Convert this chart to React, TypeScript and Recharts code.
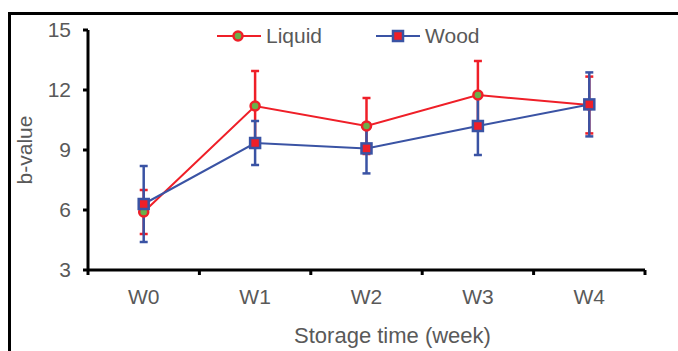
import { LineChart, Line, XAxis, YAxis, ErrorBar, Legend, Label } from 'recharts'

const categories = ['W0', 'W1', 'W2', 'W3', 'W4']
const liquid = [5.9, 11.2, 10.2, 11.75, 11.25]
const liquidErr = [1.1, 1.75, 1.4, 1.7, 1.42]
const wood = [6.3, 9.35, 9.08, 10.2, 11.28]
const woodErr = [1.9, 1.1, 1.25, 1.45, 1.6]
const yTicks = [3, 6, 9, 12, 15]

const data = categories.map((c, i) => ({
  x: i,
  name: c,
  liquid: liquid[i],
  liquidErr: liquidErr[i],
  wood: wood[i],
  woodErr: woodErr[i],
}))

// boundary ticks at half steps, labels at whole steps
const xTicks = [-0.5, 0, 0.5, 1, 1.5, 2, 2.5, 3, 3.5, 4, 4.5]

const RED = '#EF1F28'
const BLUE = '#3A53A4'
const GREEN = '#6AB04A'
const TEXT = '#595959'
const FONT = '"Liberation Sans", Arial, sans-serif'

function CircleDot(props: any) {
  const { cx, cy, index } = props
  return <circle key={`c${index}`} cx={cx} cy={cy} r={4.5} fill={GREEN} stroke={RED} strokeWidth={2.5} />
}

function SquareDot(props: any) {
  const { cx, cy, index } = props
  return <rect key={`s${index}`} x={cx - 5} y={cy - 5} width={10} height={10} fill={RED} stroke={BLUE} strokeWidth={2.5} />
}

function XTick(props: any) {
  const { x, y, payload } = props
  const v = payload.value
  if (Number.isInteger(v)) {
    return (
      <text x={x} y={y + 34} textAnchor="middle" fill={TEXT} fontSize={21} fontFamily={FONT}>
        {categories[v]}
      </text>
    )
  }
  return <line x1={x} y1={y} x2={x} y2={y + 5} stroke="#000" strokeWidth={3} />
}

function XTitle(props: any) {
  const { viewBox } = props
  return (
    <text
      x={viewBox.x + viewBox.width / 2 + 26}
      y={viewBox.y + viewBox.height - 8}
      textAnchor="middle"
      fill={TEXT}
      fontSize={22}
      fontFamily={FONT}
    >
      Storage time (week)
    </text>
  )
}

function renderLegend(props: any) {
  const items = props.payload || []
  return (
    <div style={{ display: 'flex', alignItems: 'center', fontFamily: FONT, fontSize: 21, color: TEXT }}>
      {items.map((it: any, i: number) => (
        <div key={it.value} style={{ display: 'flex', alignItems: 'center', marginLeft: i === 0 ? 0 : 54 }}>
          <svg width={44} height={16}>
            <line x1={0} y1={8} x2={44} y2={8} stroke={it.color} strokeWidth={2} />
            {it.value === 'Liquid' ? (
              <circle cx={21} cy={8} r={4.5} fill={GREEN} stroke={RED} strokeWidth={2.5} />
            ) : (
              <rect x={17} y={3} width={10} height={10} fill={RED} stroke={BLUE} strokeWidth={2.5} />
            )}
          </svg>
          <span style={{ marginLeft: 5 }}>{it.value}</span>
        </div>
      ))}
    </div>
  )
}

export default function App() {
  return (
    <div
      style={{
        position: 'absolute',
        left: 8,
        top: 12,
        width: 670,
        height: 339,
        borderTop: '3px solid #000',
        borderLeft: '3px solid #000',
        background: '#fff',
      }}
    >
      <LineChart width={667} height={336} data={data} margin={{ top: 15, right: 33, bottom: 0, left: 0 }}>
        <XAxis
          dataKey="x"
          type="number"
          domain={[-0.5, 4.5]}
          ticks={xTicks}
          interval={0}
          tickLine={false}
          tickSize={0}
          tickMargin={0}
          height={81}
          axisLine={{ stroke: '#000', strokeWidth: 3 }}
          tick={<XTick />}
        >
          <Label content={<XTitle />} />
        </XAxis>
        <YAxis
          type="number"
          domain={[3, 15]}
          ticks={yTicks}
          interval={0}
          width={77}
          tickSize={5}
          tickMargin={12}
          axisLine={{ stroke: '#000', strokeWidth: 3 }}
          tickLine={{ stroke: '#000', strokeWidth: 3 }}
          tick={{ fill: TEXT, fontSize: 21, fontFamily: FONT }}
        >
          <Label
            value="b-value"
            angle={-90}
            position="insideLeft"
            offset={14}
            style={{ fill: TEXT, fontSize: 21, fontFamily: FONT, textAnchor: 'middle' }}
          />
        </YAxis>
        <Legend
          verticalAlign="middle"
          align="center"
          layout="horizontal"
          wrapperStyle={{ top: 9, left: 206, width: 'auto' }}
          content={renderLegend}
        />
        <Line
          dataKey="liquid"
          name="Liquid"
          stroke={RED}
          strokeWidth={2}
          dot={<CircleDot />}
          activeDot={false}
          isAnimationActive={false}
        >
          <ErrorBar dataKey="liquidErr" direction="y" width={4} stroke={RED} strokeWidth={2.5} />
        </Line>
        <Line
          dataKey="wood"
          name="Wood"
          stroke={BLUE}
          strokeWidth={2}
          dot={<SquareDot />}
          activeDot={false}
          isAnimationActive={false}
        >
          <ErrorBar dataKey="woodErr" direction="y" width={4} stroke={BLUE} strokeWidth={2.5} />
        </Line>
      </LineChart>
    </div>
  )
}
